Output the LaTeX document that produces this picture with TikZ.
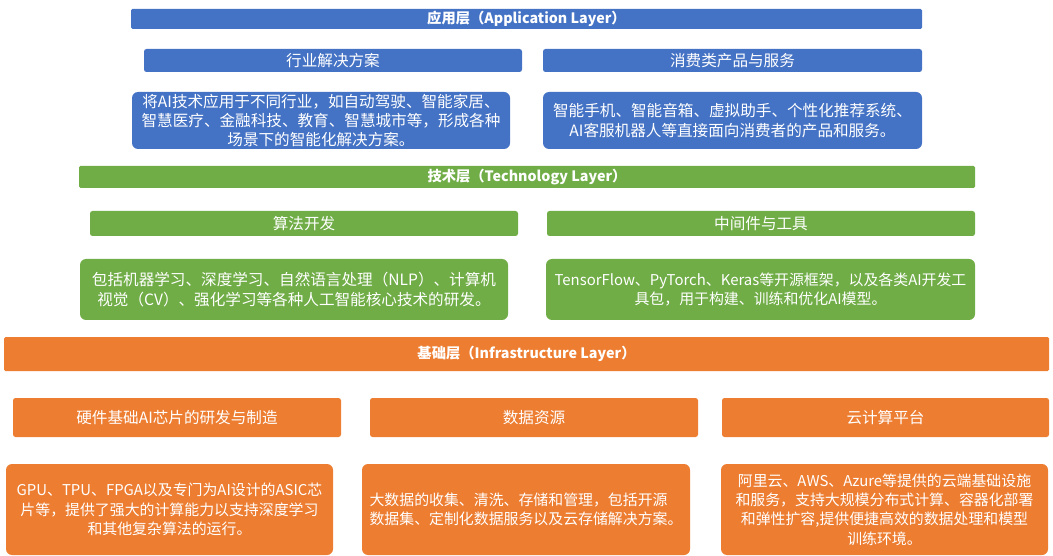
\documentclass[tikz,border=0pt]{standalone}
\usepackage{fontspec}
\setmainfont{Noto Sans CJK SC}
\definecolor{cblue}{HTML}{4472C4}
\definecolor{cgreen}{HTML}{70AD47}
\definecolor{corange}{HTML}{ED7D31}
\tikzset{
  layerbar/.style={fill=#1, draw=none, rounded corners=1.5pt, inner sep=0pt, text=white,
    font=\fontsize{14.3}{17}\selectfont\bfseries},
  hdrbox/.style={fill=#1, draw=none, rounded corners=2.5pt, inner sep=0pt, text=white,
    font=\fontsize{15.6}{18}\selectfont},
  descbox/.style={fill=#1, draw=none, rounded corners=6pt, inner sep=0pt, text=white,
    align=center, font=\fontsize{15.6}{19.3}\selectfont},
  latinfit/.style={font=\fontsize{14.9}{19.3}\selectfont},
}
\begin{document}
\begin{tikzpicture}[x=1pt,y=-1pt]
\useasboundingbox (0,0) rectangle (1053,556);
% Application layer
\node[layerbar=cblue, minimum width=791pt, minimum height=20pt] (app) at (526.5,19) {应用层（Application Layer）};
\node[hdrbox=cblue, minimum width=378pt, minimum height=23pt] (ind) at (333,60.5) {行业解决方案};
\node[hdrbox=cblue, minimum width=379pt, minimum height=23pt] (con) at (732.5,60.5) {消费类产品与服务};
\node[descbox=cblue, minimum width=378pt, minimum height=57pt] (indd) at (321,120.5) {将AI技术应用于不同行业，如自动驾驶、智能家居、\\智慧医疗、金融科技、教育、智慧城市等，形成各种\\场景下的智能化解决方案。};
\node[descbox=cblue, minimum width=379pt, minimum height=57pt] (cond) at (732.5,120.5) {智能手机、智能音箱、虚拟助手、个性化推荐系统、\\AI客服机器人等直接面向消费者的产品和服务。};
% Technology layer
\node[layerbar=cgreen, minimum width=896pt, minimum height=22pt] (tech) at (527,177) {技术层（Technology Layer）};
\node[hdrbox=cgreen, minimum width=428pt, minimum height=25pt] (alg) at (304,223.5) {算法开发};
\node[hdrbox=cgreen, minimum width=428pt, minimum height=25pt] (mid) at (761,223.5) {中间件与工具};
\node[descbox=cgreen, minimum width=428pt, minimum height=61pt] (algd) at (294,289.5) {包括机器学习、深度学习、自然语言处理（NLP）、计算机\\视觉（CV）、强化学习等各种人工智能核心技术的研发。};
\node[descbox=cgreen, latinfit, minimum width=429pt, minimum height=61pt] (midd) at (760.5,289.5) {TensorFlow、PyTorch、Keras等开源框架，以及各类AI开发工\\具包，用于构建、训练和优化AI模型。};
% Infrastructure layer
\node[layerbar=corange, minimum width=1045pt, minimum height=34pt] (infra) at (526.5,354) {基础层（Infrastructure Layer）};
\node[hdrbox=corange, minimum width=328pt, minimum height=39pt] (hw) at (177,417.5) {硬件基础AI芯片的研发与制造};
\node[hdrbox=corange, minimum width=328pt, minimum height=39pt] (data) at (534,417.5) {数据资源};
\node[hdrbox=corange, minimum width=327pt, minimum height=39pt] (cloud) at (885.5,417.5) {云计算平台};
\node[descbox=corange, latinfit, minimum width=327pt, minimum height=91pt] (hwd) at (169.5,509.5) {GPU、TPU、FPGA以及专门为AI设计的ASIC芯\\片等，提供了强大的计算能力以支持深度学习\\和其他复杂算法的运行。};
\node[descbox=corange, latinfit, align=left, minimum width=328pt, minimum height=91pt] (datad) at (526,509.5) {大数据的收集、清洗、存储和管理，包括开源\\数据集、定制化数据服务以及云存储解决方案。};
\node[descbox=corange, latinfit, minimum width=327pt, minimum height=91pt] (cloudd) at (884.5,509.5) {阿里云、AWS、Azure等提供的云端基础设施\\和服务，支持大规模分布式计算、容器化部署\\和弹性扩容,提供便捷高效的数据处理和模型\\训练环境。};
\end{tikzpicture}
\end{document}
